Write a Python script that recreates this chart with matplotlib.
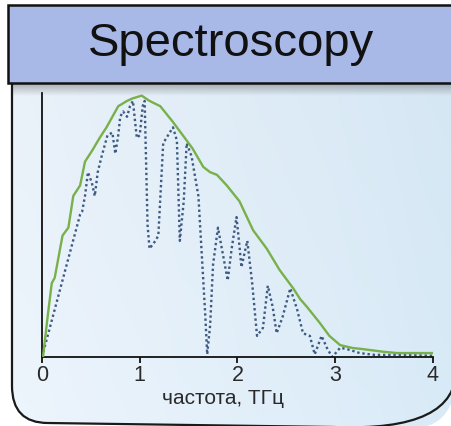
import matplotlib.pyplot as plt
import numpy as np
from matplotlib.path import Path
from matplotlib.patches import PathPatch, Rectangle

plt.rcParams['font.family'] = ['Liberation Sans', 'DejaVu Sans']

# Spectrum envelope (solid green) - frequency in THz, relative amplitude
env_freq = [0.0, 0.01, 0.06, 0.10, 0.13, 0.21, 0.27, 0.32, 0.39, 0.44, 0.51,
            0.59, 0.66, 0.72, 0.78, 0.87, 0.93, 1.02, 1.10, 1.21, 1.34, 1.44,
            1.54, 1.65, 1.72, 1.79, 1.89, 2.02, 2.16, 2.30, 2.43, 2.57, 2.64,
            2.71, 2.84, 2.94, 3.05, 3.18, 3.28, 3.49, 3.63, 4.0]
env_amp = [0.0, 0.0, 0.16, 0.28, 0.30, 0.46, 0.49, 0.61, 0.65, 0.74, 0.78,
           0.83, 0.87, 0.91, 0.95, 0.97, 0.98, 0.99, 0.97, 0.95, 0.89, 0.84,
           0.79, 0.72, 0.70, 0.69, 0.65, 0.59, 0.48, 0.41, 0.33, 0.26, 0.22,
           0.19, 0.13, 0.08, 0.045, 0.034, 0.03, 0.02, 0.015, 0.015]

# Spectrum with absorption lines (dotted)
abs_freq = [0.0, 0.39, 0.41, 0.44, 0.47, 0.51, 0.54, 0.57, 0.61, 0.67, 0.72,
            0.75, 0.78, 0.80, 0.83, 0.87, 0.90, 0.93, 0.97, 1.00, 1.03, 1.05,
            1.08, 1.10, 1.16, 1.19, 1.24, 1.34, 1.38, 1.41, 1.45, 1.48, 1.53,
            1.60, 1.67, 1.69, 1.72, 1.75, 1.80, 1.84, 1.90, 1.94, 1.99, 2.02,
            2.04, 2.10, 2.15, 2.20, 2.26, 2.31, 2.36, 2.40, 2.46, 2.54, 2.61,
            2.67, 2.74, 2.79, 2.86, 2.92, 2.97, 3.05, 3.12, 3.25, 3.40, 3.66,
            4.0]
abs_amp = [0.0, 0.54, 0.55, 0.61, 0.70, 0.66, 0.61, 0.70, 0.76, 0.84, 0.85,
           0.77, 0.84, 0.91, 0.93, 0.91, 0.95, 0.97, 0.83, 0.84, 0.95, 0.97,
           0.50, 0.41, 0.44, 0.46, 0.81, 0.87, 0.82, 0.44, 0.59, 0.81, 0.76,
           0.61, 0.16, 0.01, 0.12, 0.35, 0.49, 0.41, 0.29, 0.41, 0.53, 0.42,
           0.34, 0.44, 0.28, 0.08, 0.11, 0.27, 0.19, 0.09, 0.15, 0.26, 0.18,
           0.09, 0.08, 0.01, 0.08, 0.03, 0.0, 0.035, 0.03, 0.015, 0.008, 0.008,
           0.005]

x_ticks = [0, 1, 2, 3, 4]
x_label = 'частота, ТГц'
title = 'Spectroscopy'

W, H = 452, 426
fig = plt.figure(figsize=(W / 100, H / 100), dpi=100)

# background layer in pixel coordinates
bg = fig.add_axes([0, 0, 1, 1])
bg.set_xlim(0, W)
bg.set_ylim(H, 0)
bg.axis('off')

# rounded panel behind the plot
verts = [(12, 40), (12, 386), (12, 423), (48, 423), (405, 428),
         (458, 432), (456, 368), (456, 40), (12, 40)]
codes = [Path.MOVETO, Path.LINETO, Path.CURVE3, Path.CURVE3, Path.LINETO,
         Path.CURVE3, Path.CURVE3, Path.LINETO, Path.CLOSEPOLY]
panel = PathPatch(Path(verts, codes), facecolor='none', edgecolor='#1a1a1a',
                  lw=1.6, zorder=3)
bg.add_patch(panel)

gx = np.linspace(0, 1, 200)
gy = np.linspace(0, 1, 200)
GX, GY = np.meshgrid(gx, gy)
c_left = np.array([0.93, 0.96, 0.99])
c_right = np.array([0.85, 0.92, 0.97])
grad = c_left[None, None, :] * (1 - GX[..., None]) + c_right[None, None, :] * GX[..., None]
grad = grad - 0.015 * (1 - GY[..., None])
img = bg.imshow(np.clip(grad, 0, 1), extent=[12, 458, 432, 40], aspect='auto', zorder=1)
img.set_clip_path(panel)

# shadow under the title bar
sh = np.zeros((40, 2, 4))
sh[..., :3] = 0.35
sh[..., 3] = np.linspace(0.45, 0.0, 40)[:, None]
simg = bg.imshow(sh, extent=[12, 458, 96, 83], aspect='auto', zorder=2)
simg.set_clip_path(panel)

# title bar
bg.add_patch(Rectangle((8, 5), 460, 78, facecolor='#a8b9e8', edgecolor='#111111',
                       lw=1.8, zorder=4))
bg.text(231, 44, title, fontsize=34, ha='center', va='center', color='#111111', zorder=5)

# spectrum plot
ax = fig.add_axes([42 / W, (H - 357) / H, 391 / W, 264 / H])
ax.patch.set_alpha(0)
ax.plot(abs_freq, abs_amp, color='#3d5a82', lw=1.7, linestyle=(0, (1, 1.2)), zorder=2)
ax.plot(env_freq, env_amp, color='#78b04a', lw=1.7, zorder=3)
ax.set_xlim(0, 4)
ax.set_ylim(0, 1)
ax.spines['top'].set_visible(False)
ax.spines['right'].set_visible(False)
for s in ('left', 'bottom'):
    ax.spines[s].set_color('#111111')
    ax.spines[s].set_linewidth(1.3)
ax.set_yticks([])
ax.set_xticks(x_ticks)
ax.set_xticklabels([str(t) for t in x_ticks])
ax.tick_params(axis='x', direction='out', length=4, width=1.3, pad=2,
               labelsize=15.5, labelcolor='#2a2a2a', color='#111111')

bg.text(223, 398, x_label, fontsize=15, ha='center', va='center', color='#2a2a2a')

fig.savefig('out.png', dpi=100)
